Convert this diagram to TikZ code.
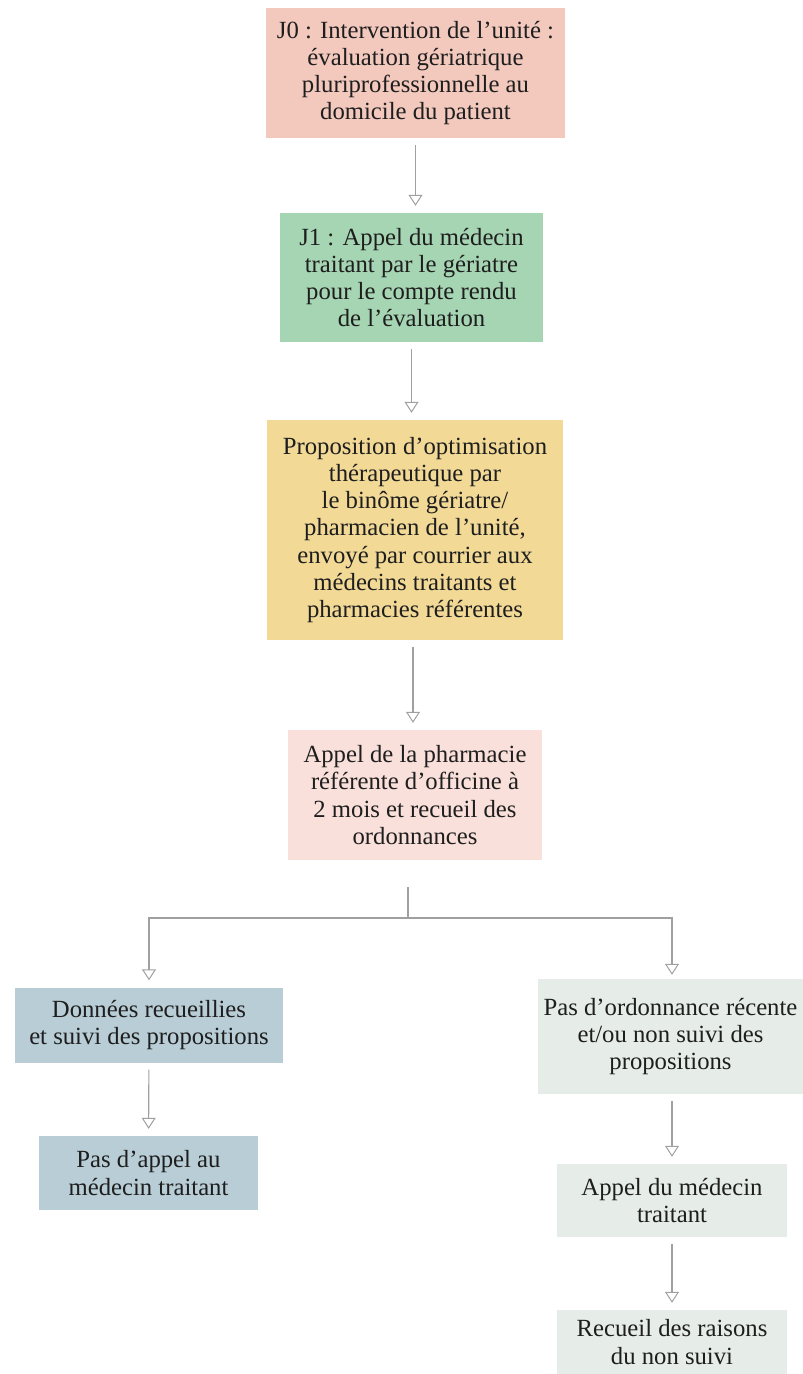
\documentclass[tikz,border=0pt]{standalone}
\usepackage{fontspec}
\setmainfont{Liberation Serif}
\usetikzlibrary{arrows.meta}
\definecolor{cpink}{RGB}{243,201,190}
\definecolor{cgreen}{RGB}{166,213,179}
\definecolor{cyellow}{RGB}{242,217,150}
\definecolor{clpink}{RGB}{250,224,218}
\definecolor{cblue}{RGB}{184,205,214}
\definecolor{cgrey}{RGB}{230,237,232}
\definecolor{cline}{RGB}{160,160,160}
\definecolor{ctext}{RGB}{30,30,30}
\tikzset{
  box/.style={rectangle, inner sep=0pt, align=center, text=ctext,
    font=\fontsize{24.7}{27.3}\selectfont},
  arr/.style={draw=cline, line width=1.1pt,
    -{Triangle[open, length=11pt, width=14pt, line width=1pt]},
    shorten <=7pt, shorten >=7pt},
  ln/.style={draw=cline, line width=1.1pt},
}
\begin{document}
\begin{tikzpicture}[x=1pt,y=-1pt]
\useasboundingbox[fill=white] (0,0) rectangle (803,1374);
\node[box, fill=cpink, minimum width=299pt, minimum height=130pt] (b1) at (415.5,73)
  {J0 : Intervention de l’unité :\\évaluation gériatrique\\pluriprofessionnelle au\\domicile du patient};
\node[box, fill=cgreen, minimum width=263pt, minimum height=129pt] (b2) at (411.5,277.5)
  {J1 : Appel du médecin\\traitant par le gériatre\\pour le compte rendu\\de l’évaluation};
\node[box, fill=cyellow, minimum width=296pt, minimum height=220pt] (b3) at (415,530)
  {Proposition d’optimisation\\thérapeutique par\\le binôme gériatre/\\pharmacien de l’unité,\\envoyé par courrier aux\\médecins traitants et\\pharmacies référentes};
\node[box, fill=clpink, minimum width=254pt, minimum height=130pt] (b4) at (415,795)
  {Appel de la pharmacie\\référente d’officine à\\2 mois et recueil des\\ordonnances};
\node[box, fill=cblue, minimum width=268pt, minimum height=75pt] (b5) at (149,1025)
  {Données recueillies\\et suivi des propositions};
\node[box, fill=cblue, minimum width=219pt, minimum height=74pt] (b6) at (148.5,1173)
  {Pas d’appel au\\médecin traitant};
\node[box, fill=cgrey, minimum width=265pt, minimum height=115pt] (b7) at (670.5,1036.5)
  {Pas d’ordonnance récente\\et/ou non suivi des\\propositions};
\node[box, fill=cgrey, minimum width=230pt, minimum height=73pt] (b8) at (672,1200.5)
  {Appel du médecin\\traitant};
\node[box, fill=cgrey, minimum width=230pt, minimum height=64pt] (b9) at (672,1342)
  {Recueil des raisons\\du non suivi};
\coordinate (bt) at (408,887);
\coordinate (br) at (408,918);
\draw[arr] (b1.south) -- (b1.south |- b2.north);
\draw[arr] (b2.south) -- (b2.south |- b3.north);
\draw[arr] ([xshift=-2pt]b3.south) -- ([xshift=-2pt]b3.south |- b4.north);
\draw[ln] (bt) -- (br);
\draw[arr, shorten <=0pt] (br) -| (b5.north);
\draw[arr, shorten <=0pt, shorten >=4pt] (br) -| ([xshift=1.5pt]b7.north);
\draw[arr] (b5) -- (b6);
\draw[arr] ([xshift=1.5pt]b7.south) -- (b8.north);
\draw[arr] (b8) -- (b9);
\end{tikzpicture}
\end{document}
